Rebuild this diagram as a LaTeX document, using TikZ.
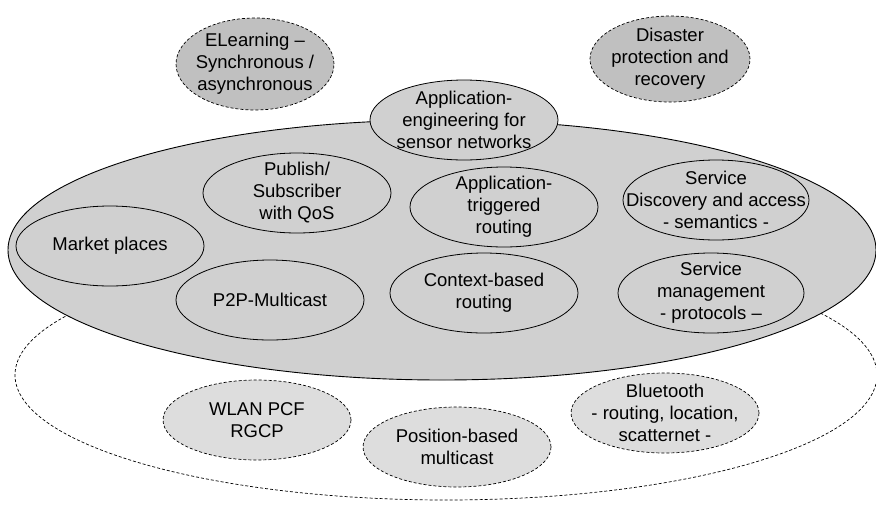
\documentclass[tikz,border=0pt]{standalone}
\usepackage{fontspec}
\setmainfont{Liberation Sans}
\usetikzlibrary{shapes.geometric}
\definecolor{biggray}{HTML}{D0D0D0}
\definecolor{topgray}{HTML}{C0C0C0}
\definecolor{lowgray}{HTML}{DDDDDD}
\tikzset{
  txt/.style={align=center, inner sep=0pt, font=\fontsize{18.5}{22}\selectfont},
  oval/.style={ellipse, draw=black, line width=0.8pt, inner sep=0pt,
    minimum width=188pt, minimum height=80pt,
    label={[txt]center:{#1}}},
  inner/.style={oval={#1}, fill=biggray},
  topdash/.style={oval={#1}, fill=topgray, dash pattern=on 3pt off 2pt, line width=0.7pt},
  lowdash/.style={oval={#1}, fill=lowgray, dash pattern=on 3pt off 2pt, line width=0.7pt},
}
\begin{document}
\begin{tikzpicture}[x=1pt,y=-1pt]
\useasboundingbox (0,0) rectangle (876,504);
% outer dashed ellipse
\node[ellipse, draw=black, dash pattern=on 3pt off 2pt, line width=0.7pt, inner sep=0pt,
  minimum width=862pt, minimum height=250pt] (outer) at (446,375) {};
% big gray ellipse
\node[ellipse, draw=black, fill=biggray, line width=0.9pt, inner sep=0pt,
  minimum width=868pt, minimum height=260pt] (big) at (442,250) {};
% inner ellipses
\node[inner={Market places}] (market) at (110,246) {};
\node[inner={Publish/\\Subscriber\\with QoS}] (pubsub) at (297,193) {};
\node[inner={Application-\\triggered\\routing}] (apptrig) at (504,207) {};
\node[inner={Service\\Discovery and access\\- semantics -}, minimum width=186pt] (sdisc) at (716,200) {};
\node[inner={P2P-Multicast}] (p2p) at (270,300) {};
\node[inner={Context-based\\routing}] (ctx) at (484,293) {};
\node[inner={Service\\management\\- protocols --}, minimum width=186pt] (smgmt) at (711,293) {};
\node[inner={Application-\\engineering for\\sensor networks}] (appeng) at (464,120) {};
% top dashed ellipses
\node[topdash={ELearning --\\Synchronous /\\asynchronous}, minimum width=158pt, minimum height=92pt] (elearn) at (255,64) {};
\node[topdash={Disaster\\protection and\\recovery}, minimum width=160pt, minimum height=86pt] (disaster) at (670,59) {};
% bottom dashed ellipses
\node[lowdash={WLAN PCF\\RGCP}] (wlan) at (257,420) {};
\node[lowdash={Position-based\\multicast}] (pos) at (457,447) {};
\node[lowdash={Bluetooth\\- routing, location,\\scatternet -}] (bt) at (665,413) {};
\end{tikzpicture}
\end{document}
